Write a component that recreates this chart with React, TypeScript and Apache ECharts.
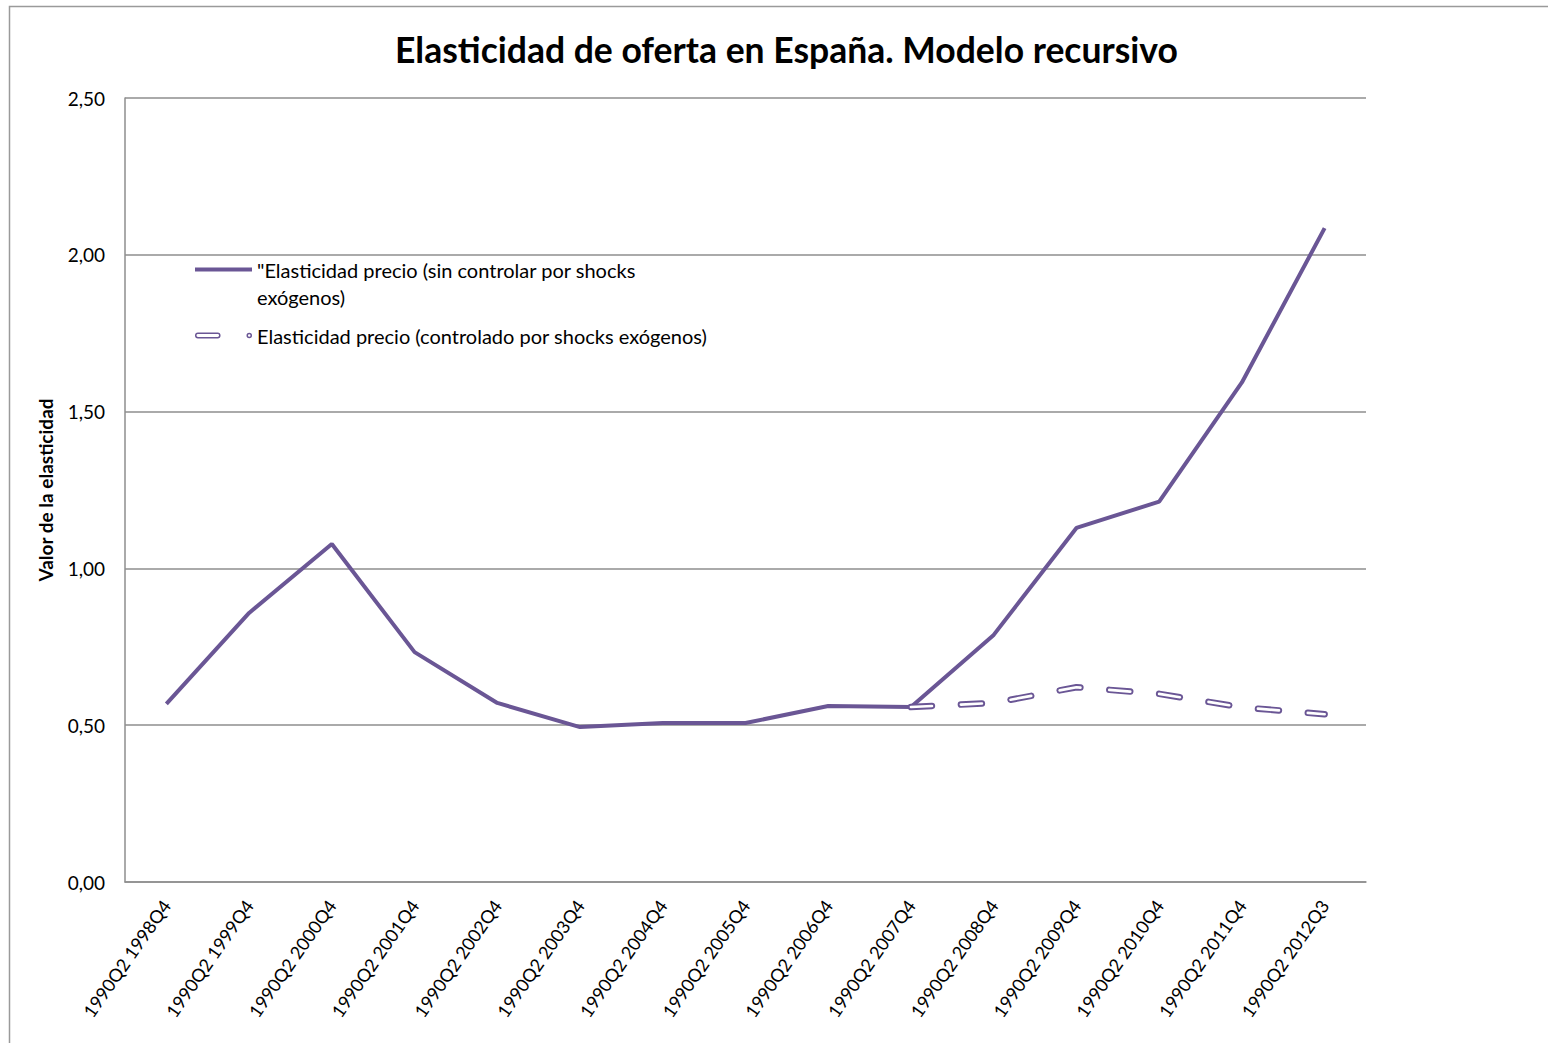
import React, { useEffect, useRef } from "react";
import * as echarts from "echarts";

const TITLE = "Elasticidad de oferta en España. Modelo recursivo";
const Y_NAME = "Valor de la elasticidad";
const CATEGORIES = [
  "1990Q2 1998Q4",
  "1990Q2 1999Q4",
  "1990Q2 2000Q4",
  "1990Q2 2001Q4",
  "1990Q2 2002Q4",
  "1990Q2 2003Q4",
  "1990Q2 2004Q4",
  "1990Q2 2005Q4",
  "1990Q2 2006Q4",
  "1990Q2 2007Q4",
  "1990Q2 2008Q4",
  "1990Q2 2009Q4",
  "1990Q2 2010Q4",
  "1990Q2 2011Q4",
  "1990Q2 2012Q3",
];
const SERIES_SIN_NAME = '"Elasticidad precio (sin controlar por shocks exógenos)';
const SERIES_SIN_LABEL = '\n"Elasticidad precio (sin controlar por shocks\nexógenos)';
const SIN_CONTROLAR = [0.568, 0.858, 1.078, 0.733, 0.571, 0.494, 0.507, 0.507, 0.561, 0.558, 0.788, 1.129, 1.213, 1.593, 2.085];
const SERIES_CON_NAME = "Elasticidad precio (controlado por shocks exógenos)";
const CONTROLADO = [null, null, null, null, null, null, null, null, null, 0.558, 0.571, 0.621, 0.6, 0.557, 0.535];
const Y_MIN = 0;
const Y_MAX = 2.5;
const Y_STEP = 0.5;

const PURPLE = "#6A5695";
const GRID_GRAY = "#8E8E8E";
const FONT = "Lato";

const ICON_LINE = "path://M0,1 L58,1 L58,5 L0,5 Z";
const ICON_DASH =
  "path://M3,0 L23,0 A3,3 0 0 1 23,6 L3,6 A3,3 0 0 1 3,0 Z " +
  "M3,1.5 A1.5,1.5 0 0 0 3,4.5 L23,4.5 A1.5,1.5 0 0 0 23,1.5 Z " +
  "M52.4,3 A2.8,2.8 0 1 1 58,3 A2.8,2.8 0 1 1 52.4,3 Z " +
  "M53.9,3 A1.3,1.3 0 1 0 56.5,3 A1.3,1.3 0 1 0 53.9,3 Z";

export default function App() {
  const ref = useRef<HTMLDivElement>(null);

  useEffect(() => {
    if (!ref.current) return;
    const chart = echarts.init(ref.current, null, { renderer: "svg" });
    const option: any = {
      animation: false,
      backgroundColor: "#ffffff",
      textStyle: { fontFamily: FONT },
      title: {
        text: TITLE,
        left: 390,
        top: 26,
        textStyle: { fontFamily: FONT, fontWeight: "bold", fontSize: 35.5, color: "#000" },
      },
      graphic: [
        {
          type: "rect",
          silent: true,
          shape: { x: 9.5, y: 6.5, width: 2000, height: 2000 },
          style: { fill: "none", stroke: "#9A9A9A", lineWidth: 1.5 },
        },
      ],
      legend: {
        orient: "vertical",
        left: 195,
        top: 229,
        padding: 0,
        itemWidth: 57,
        itemHeight: 6,
        itemGap: 12,
        selectedMode: false,
        textStyle: { fontFamily: FONT, fontSize: 20, color: "#000", lineHeight: 27 },
        formatter: (name: string) => (name === SERIES_SIN_NAME ? SERIES_SIN_LABEL : name),
        data: [
          {
            name: SERIES_SIN_NAME,
            icon: ICON_LINE,
            itemStyle: { color: PURPLE, borderWidth: 0 },
          },
          {
            name: SERIES_CON_NAME,
            icon: ICON_DASH,
            itemStyle: { color: PURPLE, borderWidth: 0 },
          },
        ],
      },
      grid: { left: 125, right: 182, top: 98, bottom: 161, containLabel: false, outerBoundsMode: "none" },
      xAxis: {
        type: "category",
        data: CATEGORIES,
        boundaryGap: true,
        axisLine: { show: true, lineStyle: { color: GRID_GRAY, width: 1.5 } },
        axisTick: { show: false },
        axisLabel: {
          rotate: 55,
          margin: 20,
          interval: 0,
          fontFamily: FONT,
          fontSize: 18,
          color: "#000",
        },
        splitLine: { show: false },
      },
      yAxis: {
        type: "value",
        min: Y_MIN,
        max: Y_MAX,
        interval: Y_STEP,
        name: Y_NAME,
        nameLocation: "middle",
        nameRotate: 90,
        nameGap: 70,
        nameTextStyle: { fontFamily: FONT, fontWeight: "bold", fontSize: 19, color: "#000" },
        axisLine: { show: true, lineStyle: { color: GRID_GRAY, width: 1.5 } },
        axisTick: { show: false },
        axisLabel: {
          margin: 20,
          fontFamily: FONT,
          fontSize: 19,
          color: "#000",
          formatter: (v: number) => v.toFixed(2).replace(".", ","),
        },
        splitLine: { show: true, lineStyle: { color: GRID_GRAY, width: 1.5 } },
      },
      series: [
        {
          name: SERIES_SIN_NAME,
          type: "line",
          data: SIN_CONTROLAR,
          symbol: "none",
          lineStyle: { color: PURPLE, width: 4 },
          itemStyle: { color: PURPLE },
          z: 2,
        },
        {
          name: SERIES_CON_NAME,
          type: "line",
          data: CONTROLADO,
          symbol: "none",
          lineStyle: { color: PURPLE, width: 6.5, type: [21, 29], cap: "round" },
          itemStyle: { color: PURPLE },
          z: 3,
        },
        {
          name: "controlado-inner",
          type: "line",
          data: CONTROLADO,
          symbol: "none",
          silent: true,
          lineStyle: { color: "#ffffff", width: 2.7, type: [21, 29], cap: "round" },
          itemStyle: { color: "#ffffff" },
          z: 4,
        },
      ],
    };
    chart.setOption(option);
    return () => chart.dispose();
  }, []);

  return (
    <div
      ref={ref}
      style={{ position: "absolute", left: 0, top: 0, width: 1548, height: 1043 }}
    />
  );
}
